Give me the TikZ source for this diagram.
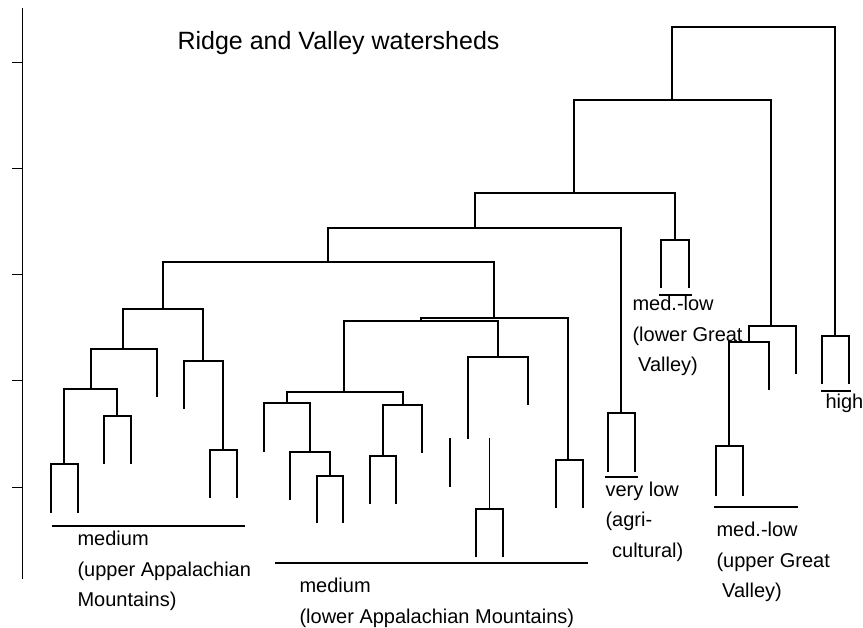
\documentclass[tikz,border=0pt]{standalone}
\usepackage{fontspec}
\setmainfont{Liberation Sans}

\begin{document}
\begin{tikzpicture}[x=1pt,y=-1pt,line width=1.1pt,
	lbl/.style={anchor=north west,inner sep=0pt,align=left,font=\fontsize{20}{30.5}\selectfont}]
	\useasboundingbox (0,0) rectangle (863,628);

	% axis and ticks
	\draw[line width=0.8pt] (22,8) -- (22,579);
	\foreach \y in {62,168,274,380,487}
		\draw[line width=0.8pt] (12,\y) -- (22,\y);

	% joins: left x / right x / bar / left end / right end
	\foreach \xl/\xr/\yb/\yl/\yr in {672/835/27/100/336, 574/771/100/193/326,
			475/675/193/228/240, 328/621/228/262/413, 163/494/262/309/318,
			123/203/309/349/361, 91/157/349/389/397, 64/117/389/464/416,
			184/223/361/409/450, 421/568/318/321/460, 344/498/321/392/357,
			468/528/357/439/405, 287/403/392/403/405, 264/310/403/452/452,
			290/330/452/500/476, 383/422/405/456/453, 749/796/326/342/374,
			729/769/342/446/390}
		\draw (\xl,\yl) -- (\xl,\yb) -- (\xr,\yb) -- (\xr,\yr);

	% leaf pairs
	\foreach \xl/\xr/\yb/\ye in {51/78/464/513, 104/131/416/464, 210/237/450/498,
			317/343/476/523, 370/396/456/504, 476/503/509/557, 556/583/460/508,
			608/635/413/472, 661/689/240/288, 716/743/446/496, 822/849/336/384}
		\draw (\xl,\ye) -- (\xl,\yb) -- (\xr,\yb) -- (\xr,\ye);

	% loose stems
	\draw (450,438) -- (450,487);
	\draw (489.5,438) -- (489.5,509);

	% group underlines
	\foreach \xa/\xb/\y in {52/245/526, 275/588/563, 659/692/295,
			605/638/477, 714/798/507, 821/851/391}
		\draw (\xa,\y) -- (\xb,\y);

	\node[anchor=base west,inner sep=0pt,font=\fontsize{25}{30}\selectfont] (title) at (177,50)
		{Ridge and Valley watersheds};

	\node[lbl] (upperapp) at (77,530.5) {medium\\(upper Appalachian\\Mountains)};
	\node[lbl] (lowerapp) at (299,577.5) {medium\\(lower Appalachian Mountains)};
	\node[lbl] (lowergv) at (632,295.5) {med.-low\\(lower Great\\\hspace*{0.28em}Valley)};
	\node[lbl] (agri) at (605,481) {very low\\(agri-\\\hspace*{0.33em}cultural)};
	\node[lbl] (uppergv) at (716,521.5) {med.-low\\(upper Great\\\hspace*{0.28em}Valley)};
	\node[anchor=base west,inner sep=0pt,font=\fontsize{20}{24}\selectfont] (high) at (825,409) {high};

\end{tikzpicture}
\end{document}
